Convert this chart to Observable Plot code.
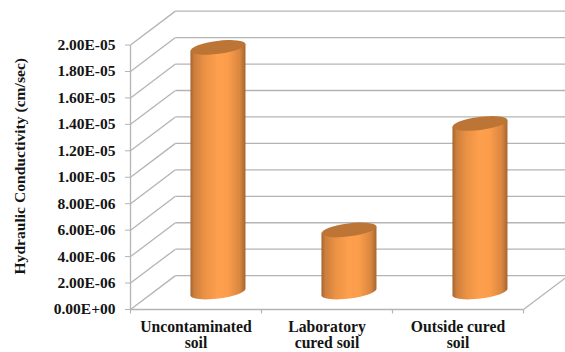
<!DOCTYPE html>
<html>
<head>
<meta charset="utf-8">
<style>
  html, body { margin: 0; padding: 0; background: #fff; }
  svg { display: block; }
</style>
<script src="https://cdn.jsdelivr.net/npm/d3@7"></script>
<script src="https://cdn.jsdelivr.net/npm/@observablehq/plot@0.6"></script>
</head>
<body>
<div id="chart"></div>
<script>
// Measured conductivity per soil condition (cm/sec)
const categories = ["Uncontaminated\nsoil", "Laboratory\ncured soil", "Outside cured\nsoil"];
const conductivity = [1.85e-5, 4.7e-6, 1.275e-5];
const tickValues = [0, 2e-6, 4e-6, 6e-6, 8e-6, 1e-5, 1.2e-5, 1.4e-5, 1.6e-5, 1.8e-5, 2e-5];
const tickLabels = ["0.00E+00", "2.00E-06", "4.00E-06", "6.00E-06", "8.00E-06", "1.00E-05",
                    "1.20E-05", "1.40E-05", "1.60E-05", "1.80E-05", "2.00E-05"];
const slotEdges = [0, 1, 2, 3];

// The oblique depth of the 3-D box, in scale units
const depthX = 0.343;
const depthY = 2.56e-6;
const barHalfWidth = 0.21;
const tickDrop = 3e-7;

const serif = "'Liberation Serif', 'Times New Roman', serif";
const wallGray = "#b4b4b4";
const ink = "#141414";

const rows = categories.map((name, i) => ({name, i, value: conductivity[i]}));

// Draws each rect of the mark as an obliquely viewed cylinder
function cylinder(index, scales, values) {
  const g = d3.create("svg:g");
  const grad = g.append("defs").append("linearGradient").attr("id", "cylinder-side");
  [[0, "#a5642e"], [0.07, "#cc7e3c"], [0.25, "#ea9144"], [0.48, "#fd9f4c"],
   [0.68, "#fb9d4b"], [0.9, "#d98640"], [1, "#a4652f"]]
    .forEach(([o, c]) => grad.append("stop").attr("offset", o).attr("stop-color", c));
  for (const i of index) {
    const left = values.x1[i], right = values.x2[i];
    const bottom = values.y1[i], top = values.y2[i];
    const cx = (left + right) / 2, rx = (right - left) / 2;
    const tilt = 3.5, minor = 6.5;
    const major = Math.hypot(rx, tilt);
    const angle = -Math.atan2(tilt, rx) * 180 / Math.PI;
    g.append("path")
      .attr("fill", "url(#cylinder-side)")
      .attr("d", `M${left},${top + tilt}L${left},${bottom + tilt}` +
                 `A${major},${minor} ${angle} 0 0 ${right},${bottom - tilt}` +
                 `L${right},${top - tilt}Z`);
    g.append("ellipse")
      .attr("cx", cx).attr("cy", top)
      .attr("rx", major).attr("ry", minor)
      .attr("transform", `rotate(${angle} ${cx} ${top})`)
      .attr("fill", "#bd7535");
  }
  return g.node();
}

const chart = Plot.plot({
  width: 565,
  height: 352,
  marginLeft: 130,
  marginRight: 42,
  marginTop: 44.5,
  marginBottom: 43,
  style: {background: "#fff", fontFamily: serif, color: ink},
  x: {type: "linear", domain: [0, 3], axis: null},
  y: {type: "linear", domain: [0, 2e-5], axis: null},
  marks: [
    // Back wall gridlines and their returns along the side wall
    Plot.link(tickValues, {x1: depthX, x2: 3 + depthX, y1: d => d + depthY, y2: d => d + depthY,
                           stroke: wallGray, strokeWidth: 1.3}),
    Plot.link(tickValues, {x1: 0, x2: depthX, y1: d => d, y2: d => d + depthY,
                           stroke: wallGray, strokeWidth: 1.3}),
    // Front edges of the box
    Plot.link([0], {x1: 0, x2: 0, y1: 0, y2: 2e-5, stroke: wallGray, strokeWidth: 1.3}),
    Plot.link([0], {x1: 0, x2: 3, y1: 0, y2: 0, stroke: wallGray, strokeWidth: 1.5}),
    Plot.link([3], {x1: 3, x2: 3 + depthX, y1: 0, y2: depthY, stroke: wallGray, strokeWidth: 1.3}),
    Plot.link(slotEdges, {x1: d => d, x2: d => d, y1: 0, y2: -tickDrop, stroke: wallGray, strokeWidth: 1.2}),
    Plot.axisY({
      ticks: tickValues,
      tickFormat: d => tickLabels[tickValues.indexOf(d)],
      tickSize: 5,
      tickPadding: 10,
      stroke: wallGray,
      fill: ink,
      fontSize: 15.5,
      fontWeight: "bold",
      label: null
    }),
    Plot.rect(rows, {
      x1: d => d.i + 0.5 + depthX / 2 - barHalfWidth,
      x2: d => d.i + 0.5 + depthX / 2 + barHalfWidth,
      y1: depthY / 2,
      y2: d => d.value + depthY / 2,
      render: cylinder
    }),
    Plot.text(rows, {
      x: d => d.i + 0.5, y: 0, text: "name",
      lineAnchor: "top", dy: 11, lineHeight: 1.03,
      fontSize: 15.7, fontWeight: "bold", fill: ink
    }),
    Plot.text(["Hydraulic Conductivity (cm/sec)"], {
      frameAnchor: "left", textAnchor: "middle", rotate: -90, dx: -111, dy: -11,
      fontSize: 15.6, fontWeight: "bold", fill: ink
    })
  ]
});
document.getElementById("chart").append(chart);
</script>
</body>
</html>
